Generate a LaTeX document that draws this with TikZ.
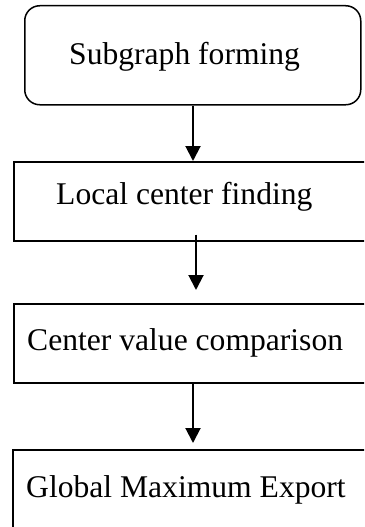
\documentclass[tikz,border=0pt]{standalone}
\usepackage{fontspec}
\setmainfont{Liberation Serif}
\usetikzlibrary{arrows.meta,calc}
\begin{document}
\begin{tikzpicture}[x=1pt,y=-1pt,
  boxstyle/.style={draw=black,line width=1.5pt,rectangle,inner sep=0pt,anchor=north west},
  labelstyle/.style={anchor=base west,inner sep=0pt,font=\fontsize{31.6pt}{36pt}\selectfont},
  arr/.style={line width=2pt,-{Triangle[width=15pt,length=15pt]}}]
\useasboundingbox (0,0) rectangle (364,527);
\clip (0,0) rectangle (364,527);
\fill[white] (0,0) rectangle (364,527);
\node[boxstyle,rounded corners=15pt,minimum width=336pt,minimum height=99pt] (b1) at (24,5) {};
\node[boxstyle,minimum width=370pt,minimum height=79pt] (b2) at (13,161) {};
\node[boxstyle,minimum width=370pt,minimum height=79pt] (b3) at (13,303) {};
\node[boxstyle,minimum width=370pt,minimum height=100pt] (b4) at (12,449) {};
\node[labelstyle] (t1) at (69,65) {Subgraph forming};
\node[labelstyle] (t2) at (56,204) {Local center finding};
\node[labelstyle] (t3) at (27,350) {Center value comparison};
\node[labelstyle] (t4) at (26,497) {Global Maximum Export};
\coordinate (x1) at (193,0);
\coordinate (x2) at (196,0);
\coordinate (x3) at (193,0);
\draw[arr] (b1.south -| x1) -- (b2.north -| x1);
\draw[arr] ($(b2.south -| x2)+(0,-7)$) -- ($(b3.north -| x2)+(0,-13)$);
\draw[arr] (b3.south -| x3) -- ($(b4.north -| x3)+(0,-6)$);
\end{tikzpicture}
\end{document}
